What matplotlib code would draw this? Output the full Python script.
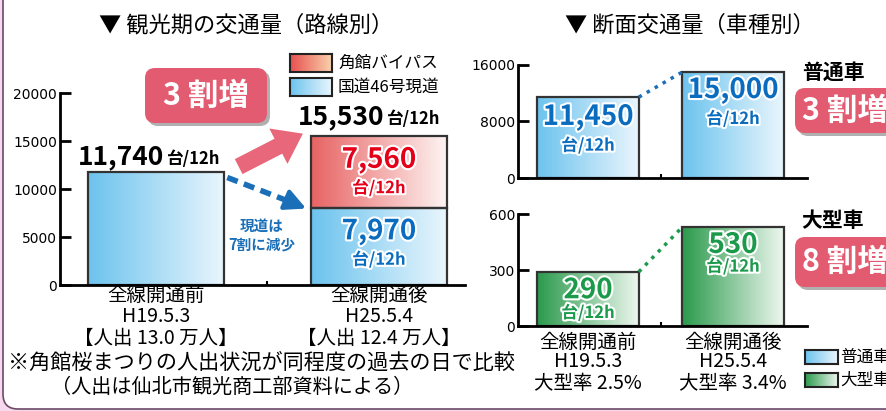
import numpy as np
import matplotlib.pyplot as plt
import matplotlib.patheffects as pe
from matplotlib.patches import FancyBboxPatch
from matplotlib.colors import LinearSegmentedColormap

plt.rcParams['font.family'] = ['Noto Sans CJK JP', 'DejaVu Sans']

W, H = 887, 411

# dados
periods = ['全線開通前', '全線開通後']
dates = ['H19.5.3', 'H25.5.4']
visitors = ['【人出 13.0 万人】', '【人出 12.4 万人】']
route46 = [11740, 7970]
bypass = [0, 7560]
normal_cars = [11450, 15000]
large_cars = [290, 530]
large_ratio = ['大型率 2.5%', '大型率 3.4%']
left_ticks = [0, 5000, 10000, 15000, 20000]
normal_ticks = [0, 8000, 16000]
large_ticks = [0, 300, 600]

BLUE = ('#6cc3ee', '#eaf6fd')
RED = ('#e86363', '#fdf5f3')
RED_LEG = ('#e84f4f', '#f9d2ac')
GREEN = ('#2a9a4c', '#eef7ef')
C_RED = '#e5001a'
C_BLUE = '#0a6cbf'
C_GREEN = '#1a9a4a'
PINK = '#e35b70'
NUM_FONT = ['Liberation Sans Narrow', 'DejaVu Sans']

fig = plt.figure(figsize=(W / 100, H / 100), dpi=100)
fig.patch.set_facecolor('#f6d8ef')

# moldura branca arredondada
frame = FancyBboxPatch((3 / 100, (H - 409) / 100), 10, 5, boxstyle='round,pad=0,rounding_size=0.15',
                       transform=fig.dpi_scale_trans, fc='white', ec='#6b4a66', lw=1.2, zorder=-5)
fig.add_artist(frame)


def frac(x0, y0, x1, y1):
    return [x0 / W, 1 - y1 / H, (x1 - x0) / W, (y1 - y0) / H]


def fpx(x, y):
    return x / W, 1 - y / H


def grad_bar(ax, x, bottom, height, width, cols):
    cmap = LinearSegmentedColormap.from_list('g', cols)
    img = np.linspace(0, 1, 256).reshape(1, -1)
    ax.imshow(img, cmap=cmap, aspect='auto', zorder=1,
              extent=(x - width / 2, x + width / 2, bottom, bottom + height))
    ax.bar(x, height, width, bottom=bottom, fill=False, edgecolor='#333333', lw=1.6, zorder=2)


def leg_box(x0, y0, x1, y1, cols):
    a = fig.add_axes(frac(x0, y0, x1, y1))
    cmap = LinearSegmentedColormap.from_list('g', cols)
    a.imshow(np.linspace(0, 1, 256).reshape(1, -1), cmap=cmap, aspect='auto')
    a.set_xticks([])
    a.set_yticks([])
    for s in a.spines.values():
        s.set_linewidth(1.5)
        s.set_color('#222222')


def style_axis(ax, ticks, ylim, xlim):
    ax.set_xlim(*xlim)
    ax.set_ylim(*ylim)
    ax.spines['top'].set_visible(False)
    ax.spines['right'].set_visible(False)
    ax.spines['left'].set_linewidth(2)
    ax.spines['bottom'].set_linewidth(2)
    ax.set_yticks(ticks)
    ax.set_yticklabels([str(t) for t in ticks], family=NUM_FONT, fontsize=10)
    ax.tick_params(axis='y', direction='in', length=8, width=2, pad=2)
    ax.set_xticks([0.5])
    ax.set_xticklabels([''])
    ax.tick_params(axis='x', direction='in', length=3, width=1.5)
    ax.patch.set_alpha(0)


def badge(x0, y0, x1, y1, txt, tx):
    sh = FancyBboxPatch((x0 / 100 + 0.03, (H - y1) / 100 - 0.03), (x1 - x0) / 100, (y1 - y0) / 100,
                        boxstyle='round,pad=0,rounding_size=0.1', transform=fig.dpi_scale_trans,
                        fc='#b0b0b0', ec='none', zorder=3)
    b = FancyBboxPatch((x0 / 100, (H - y1) / 100), (x1 - x0) / 100, (y1 - y0) / 100,
                       boxstyle='round,pad=0,rounding_size=0.1', transform=fig.dpi_scale_trans,
                       fc=PINK, ec='none', zorder=4)
    fig.add_artist(sh)
    fig.add_artist(b)
    fig.text(*fpx(tx, (y0 + y1) / 2), txt, color='white', fontsize=22, fontweight='bold',
             ha='center', va='center', zorder=5)


outline = [pe.withStroke(linewidth=3, foreground='white')]

# ---------- grafico esquerdo ----------
ax1 = fig.add_axes(frac(60, 93, 465, 285))
bw = 0.61
grad_bar(ax1, 0, 0, route46[0], bw, BLUE)
grad_bar(ax1, 1, 0, route46[1], bw, BLUE)
grad_bar(ax1, 1, route46[1], bypass[1], bw, RED)
style_axis(ax1, left_ticks, (0, 20000), (-0.43, 1.386))

total = route46[1] + bypass[1]
ax1.text(1, route46[1] + bypass[1] * 0.67, f'{bypass[1]:,}', color=C_RED, fontsize=20,
         fontweight='bold', ha='center', va='center', zorder=5, path_effects=outline)
ax1.text(1, route46[1] + bypass[1] * 0.28, '台/12h', color=C_RED, fontsize=12,
         fontweight='bold', ha='center', va='center', zorder=5, path_effects=outline)
ax1.text(1, route46[1] * 0.70, f'{route46[1]:,}', color=C_BLUE, fontsize=20,
         fontweight='bold', ha='center', va='center', zorder=5, path_effects=outline)
ax1.text(1, route46[1] * 0.33, '台/12h', color=C_BLUE, fontsize=12,
         fontweight='bold', ha='center', va='center', zorder=5, path_effects=outline)

fig.text(*fpx(164, 157), f'{route46[0]:,}', fontsize=19, fontweight='bold', ha='right', va='center')
fig.text(*fpx(166, 159), '台/12h', fontsize=12, fontweight='bold', ha='left', va='center')
fig.text(*fpx(384, 117), f'{total:,}', fontsize=19, fontweight='bold', ha='right', va='center')
fig.text(*fpx(386, 119), '台/12h', fontsize=12, fontweight='bold', ha='left', va='center')

# setas
ax1.annotate('', xy=(0.67, 15900), xytext=(0.36, 12200),
             arrowprops=dict(arrowstyle='simple,head_width=1.3,head_length=0.9,tail_width=0.55',
                             mutation_scale=22, color='#e8677a', lw=0), zorder=6)
ax1.plot([0.32, 0.62], [11200, 8500], ls=(0, (2, 1.2)), color='#1a6fb8', lw=4, zorder=6)
ax1.annotate('', xy=(0.685, 7850), xytext=(0.60, 8700),
             arrowprops=dict(arrowstyle='-|>,head_width=0.45,head_length=0.9', color='#1a6fb8',
                             lw=3, mutation_scale=14), zorder=6)
ax1.text(0.475, 5200, '現道は\n7割に減少', color='#1a6fb8', fontsize=10.5, fontweight='bold',
         ha='center', va='center', linespacing=1.15)

tr = ax1.get_xaxis_transform()
for i in range(2):
    ax1.text(i, -0.055, periods[i], transform=tr, ha='center', va='center', fontsize=14)
    ax1.text(i, -0.165, dates[i], transform=tr, ha='center', va='center', fontsize=14)
    ax1.text(i, -0.28, visitors[i], transform=tr, ha='center', va='center', fontsize=14)

fig.text(*fpx(262, 363), '※角館桜まつりの人出状況が同程度の過去の日で比較', ha='center', va='center', fontsize=15.2)
fig.text(*fpx(232, 387), '（人出は仙北市観光商工部資料による）', ha='center', va='center', fontsize=14.5)

fig.text(*fpx(246, 25), '▼ 観光期の交通量（路線別）', ha='center', va='center', fontsize=16)
leg_box(290, 54, 332, 72, RED_LEG)
leg_box(290, 78, 332, 96, BLUE)
fig.text(*fpx(338, 63), '角館バイパス', ha='left', va='center', fontsize=12)
fig.text(*fpx(338, 87), '国道46号現道', ha='left', va='center', fontsize=12)
badge(145, 68, 267, 123, '3 割増', 206)

# ---------- graficos da direita ----------
fig.text(*fpx(690, 25), '▼ 断面交通量（車種別）', ha='center', va='center', fontsize=16)
bw2 = 0.70
xl2 = (-0.483, 1.51)

ax2 = fig.add_axes(frac(518, 65, 807, 178))
for i in range(2):
    grad_bar(ax2, i, 0, normal_cars[i], bw2, BLUE)
style_axis(ax2, normal_ticks, (0, 16000), xl2)
ax2.plot([bw2 / 2, 1 - bw2 / 2], normal_cars, ls=':', color='#1a6fb8', lw=2.5, zorder=3)
for i, (f1, f2) in enumerate([(0.754, 0.40), (0.83, 0.557)]):
    ax2.text(i, normal_cars[i] * f1, f'{normal_cars[i]:,}', color=C_BLUE, fontsize=20,
             fontweight='bold', ha='center', va='center', zorder=5, path_effects=outline)
    ax2.text(i, normal_cars[i] * f2, '台/12h', color=C_BLUE, fontsize=12,
             fontweight='bold', ha='center', va='center', zorder=5, path_effects=outline)

ax3 = fig.add_axes(frac(518, 214, 807, 326))
for i in range(2):
    grad_bar(ax3, i, 0, large_cars[i], bw2, GREEN)
style_axis(ax3, large_ticks, (0, 600), xl2)
ax3.plot([bw2 / 2, 1 - bw2 / 2], large_cars, ls=':', color=C_GREEN, lw=2.5, zorder=3)
for i, (f1, f2) in enumerate([(0.66, 0.24), (0.82, 0.60)]):
    ax3.text(i, large_cars[i] * f1, f'{large_cars[i]:,}', color=C_GREEN, fontsize=20,
             fontweight='bold', ha='center', va='center', zorder=5, path_effects=outline)
    ax3.text(i, large_cars[i] * f2, '台/12h', color=C_GREEN, fontsize=12,
             fontweight='bold', ha='center', va='center', zorder=5, path_effects=outline)

tr3 = ax3.get_xaxis_transform()
for i in range(2):
    ax3.text(i, -0.143, periods[i], transform=tr3, ha='center', va='center', fontsize=14)
    ax3.text(i, -0.321, dates[i], transform=tr3, ha='center', va='center', fontsize=14)
    ax3.text(i, -0.509, large_ratio[i], transform=tr3, ha='center', va='center', fontsize=14)

fig.text(*fpx(833, 72), '普通車', ha='center', va='center', fontsize=15, fontweight='bold')
badge(795, 88, 895, 133, '3 割増', 845)
fig.text(*fpx(833, 220), '大型車', ha='center', va='center', fontsize=15, fontweight='bold')
badge(795, 237, 895, 287, '8 割増', 845)

leg_box(805, 350, 838, 364, BLUE)
leg_box(805, 373, 838, 387, GREEN)
fig.text(*fpx(840, 357), '普通車', ha='left', va='center', fontsize=12)
fig.text(*fpx(840, 380), '大型車', ha='left', va='center', fontsize=12)

plt.savefig('out.png', dpi=100)
